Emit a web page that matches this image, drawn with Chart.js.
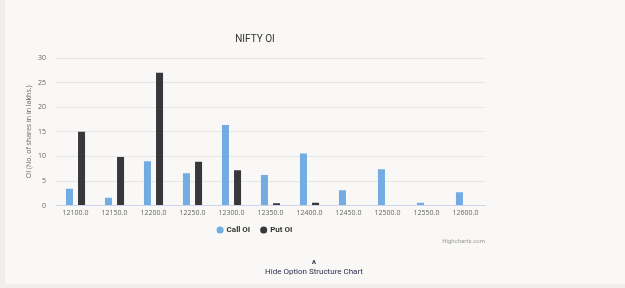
<!DOCTYPE html>
<html>
<head>
<meta charset="utf-8">
<script src="https://cdn.jsdelivr.net/npm/chart.js@4.4.1/dist/chart.umd.min.js"></script>
<style>
	html, body { margin: 0; padding: 0; }
	body { width: 625px; height: 288px; background: #f9f8f6; position: relative; overflow: hidden; font-family: Roboto, "Open Sans", sans-serif; }
	#edge { position: absolute; left: 0; top: 0; width: 5px; height: 288px; background: #efeeec; }
	#foot { position: absolute; left: 0; top: 284px; width: 625px; height: 4px; background: #f0efed; }
	#wrap { position: absolute; left: 0; top: 0; width: 625px; height: 288px; }
	#credit { position: absolute; right: 140px; top: 237px; font-size: 6px; color: #999; }
	#caret { position: absolute; left: 308px; top: 259px; width: 12px; text-align: center; font-size: 10px; font-weight: bold; color: #2d3050; }
	#hide { position: absolute; left: 214px; width: 200px; text-align: center; top: 267px; font-size: 8px; color: #2d3050; }
</style>
</head>
<body>
<div id="edge"></div>
<div id="foot"></div>
<div id="wrap"><canvas id="oi_chart"></canvas></div>
<div id="credit">Highcharts.com</div>
<div id="caret">^</div>
<div id="hide">Hide Option Structure Chart</div>
<script>
const strikes = ["12100.0", "12150.0", "12200.0", "12250.0", "12300.0", "12350.0", "12400.0", "12450.0", "12500.0", "12550.0", "12600.0"];
const call_oi = [3.4, 1.6, 9.0, 6.6, 16.4, 6.2, 10.6, 3.1, 7.4, 0.6, 2.7];
const put_oi = [15.0, 9.9, 27.0, 8.9, 7.2, 0.5, 0.6, 0, 0.1, 0, 0];

// legend sits closer to the axis than chart.js likes, pull it up a bit
const legendShift = 5;
const legendNudge = {
	id: "legendNudge",
	beforeLayout(chart) {
		const lg = chart.legend;
		if (lg && !lg._nudged) {
			const fit = lg.fit;
			lg.fit = function () {
				fit.call(this);
				this.height -= legendShift;
			};
			lg._nudged = true;
		}
	},
	afterLayout(chart) {
		chart.legend.top -= legendShift;
		chart.legend.bottom -= legendShift;
	},
};

const tickFont = { family: "Open Sans", size: 7 };

const oi_cont = document.getElementById("oi_chart").getContext("2d");
oi = new Chart(oi_cont, {
	type: "bar",
	data: {
		labels: strikes,
		datasets: [
			{
				label: "Call OI",
				data: call_oi,
				backgroundColor: "#72ace3",
				categoryPercentage: 0.62,
				barPercentage: 0.58,
			},
			{
				label: "Put OI",
				data: put_oi,
				backgroundColor: "#38383c",
				categoryPercentage: 0.62,
				barPercentage: 0.58,
			},
		],
	},
	plugins: [legendNudge],
	options: {
		responsive: true,
		maintainAspectRatio: false,
		animation: false,
		layout: {
			padding: { left: 25, right: 140, top: 0, bottom: 44 },
		},
		plugins: {
			tooltip: { enabled: false },
			title: {
				display: true,
				text: "NIFTY OI",
				color: "#333",
				font: { family: "Roboto", size: 10, weight: "normal" },
				padding: { top: 33, bottom: 13 },
			},
			legend: {
				position: "bottom",
				labels: {
					usePointStyle: true,
					pointStyle: "circle",
					boxWidth: 5,
					boxHeight: 5,
					padding: 11,
					color: "#333",
					font: { family: "Roboto", size: 8, weight: "bold" },
				},
			},
		},
		scales: {
			x: {
				grid: { display: false, drawTicks: false },
				border: { color: "#ccd6eb" },
				ticks: {
					color: "#666",
					padding: 3,
					maxRotation: 0,
					font: tickFont,
				},
			},
			y: {
				min: 0,
				max: 30,
				grid: { color: "#e6e6e6", drawTicks: false },
				border: { display: false },
				ticks: {
					stepSize: 5,
					color: "#666",
					padding: 10,
					font: tickFont,
				},
				title: {
					display: true,
					text: "OI (No. of shares in in lakhs.)",
					color: "#666",
					padding: { top: 0, bottom: 5 },
					font: tickFont,
				},
				afterFit: (scale) => {
					scale.width = 31;
				},
			},
		},
	},
});
</script>
</body>
</html>
